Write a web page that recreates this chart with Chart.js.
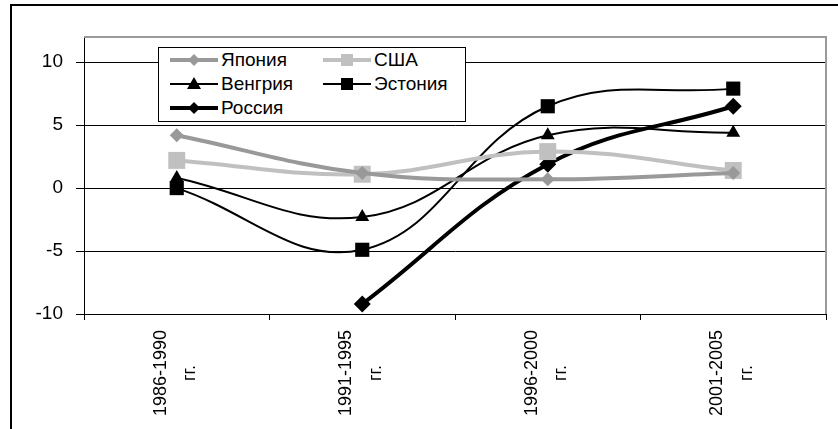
<!DOCTYPE html>
<html><head><meta charset="utf-8">
<script src="https://cdn.jsdelivr.net/npm/chart.js@4"></script>
<style>
html,body{margin:0;padding:0;background:#fff;}
#wrap{position:relative;width:838px;height:429px;overflow:hidden;}
#legend{position:absolute;left:158px;top:47px;width:306px;height:73px;border:1px solid #000;background:#fff;font-family:"Liberation Sans",Arial,sans-serif;font-size:19px;color:#000;}
.item{position:absolute;display:flex;align-items:center;height:24px;white-space:nowrap;}
.item svg{display:block;margin-right:3px;}
</style></head><body>
<div id="wrap"><canvas id="c" width="838" height="429"></canvas><div id="legend"></div></div>
<script>
const periods = ['1986-1990', '1991-1995', '1996-2000', '2001-2005'];
const periodSuffix = 'гг.';
const seriesNames = ['Япония', 'США', 'Венгрия', 'Эстония', 'Россия'];
const japan   = [4.2, 1.2, 0.7, 1.2];
const usa     = [2.2, 1.1, 2.9, 1.4];
const hungary = [0.8, -2.3, 4.2, 4.4];
const estonia = [0.0, -4.9, 6.5, 7.9];
const russia  = [null, -9.2, 1.9, 6.5];
const yTicks = [-10, -5, 0, 5, 10];
const yMin = -10, yMax = 12;

const FONT = '"Liberation Sans", Arial, sans-serif';
const pad = '\u00a0'.repeat(7);
const labels = periods.map(p => [p, periodSuffix + pad]);

const styles = [
  {color:'#999999', width:4, shape:'rectRot', r:7},
  {color:'#c0c0c0', width:4, shape:'rect', r:12},
  {color:'#000000', width:2, shape:'triangle', r:8},
  {color:'#000000', width:2, shape:'rect', r:10},
  {color:'#000000', width:4, shape:'rectRot', r:8.5}
];
const values = [japan, usa, hungary, estonia, russia];

const datasets = seriesNames.map((name, i) => ({
  label: name,
  data: values[i],
  borderColor: styles[i].color,
  backgroundColor: styles[i].color,
  borderWidth: styles[i].width,
  pointStyle: styles[i].shape,
  pointRadius: styles[i].r,
  pointBorderWidth: 0,
  pointBackgroundColor: styles[i].color,
  tension: 0.4,
  fill: false,
  spanGaps: false
})).reverse().map(d => d).reverse();

const framePlugin = {
  id: 'frame',
  beforeDraw(chart) {
    const ctx = chart.ctx;
    ctx.save();
    ctx.fillStyle = '#fff';
    ctx.fillRect(0, 0, chart.width, chart.height);
    ctx.strokeStyle = '#000';
    ctx.lineWidth = 2;
    ctx.beginPath();
    ctx.moveTo(11, chart.height + 2);
    ctx.lineTo(11, 5);
    ctx.lineTo(chart.width + 2, 5);
    ctx.stroke();
    ctx.restore();
  },
  beforeDatasetsDraw(chart) {
    const a = chart.chartArea, ctx = chart.ctx;
    ctx.save();
    ctx.strokeStyle = '#9a9a9a';
    ctx.lineWidth = 2;
    ctx.beginPath();
    ctx.moveTo(a.left, a.top);
    ctx.lineTo(a.right, a.top);
    ctx.lineTo(a.right, a.bottom);
    ctx.stroke();
    ctx.restore();
  }
};

const chart = new Chart(document.getElementById('c'), {
  type: 'line',
  data: { labels, datasets },
  options: {
    responsive: false,
    animation: false,
    layout: { padding: { left: 0, top: 37, right: 10, bottom: 0 } },
    plugins: { legend: { display: false }, tooltip: { enabled: false } },
    scales: {
      x: {
        offset: true,
        grid: { offset: true, drawOnChartArea: false, drawTicks: true, tickLength: 6, color: '#000', lineWidth: 1 },
        border: { color: '#000', width: 1 },
        ticks: { autoSkip: false, minRotation: 90, maxRotation: 90, padding: 10, labelOffset: -16, color: '#000',
                  font: { family: FONT, size: 18, lineHeight: 1.65 } },
        afterFit: s => { s.height = 115; }
      },
      y: {
        min: yMin, max: yMax,
        afterBuildTicks: s => { s.ticks = yTicks.map(v => ({ value: v })); },
        grid: { color: '#000', lineWidth: 1, tickLength: 8, drawTicks: true },
        border: { color: '#000', width: 1 },
        ticks: { padding: 13, color: '#000', font: { family: FONT, size: 19 } },
        afterFit: s => { s.width = 84; }
      }
    }
  },
  plugins: [framePlugin]
});

// HTML legend built from the datasets
const legend = document.getElementById('legend');
const rowTops = [0, 24, 48];
const colLefts = [11, 164];
function markerSvg(st) {
  const c = st.color, cx = 24, cy = 12;
  let m = '';
  if (st.shape === 'rectRot') m = `<polygon points="${cx-6},${cy} ${cx},${cy-6} ${cx+6},${cy} ${cx},${cy+6}" fill="${c}"/>`;
  else if (st.shape === 'rect') m = `<rect x="${cx-6}" y="${cy-6}" width="12" height="12" fill="${c}"/>`;
  else m = `<polygon points="${cx-7},${cy+5} ${cx},${cy-7} ${cx+7},${cy+5}" fill="${c}"/>`;
  return `<svg width="48" height="24"><line x1="0" y1="12" x2="48" y2="12" stroke="${c}" stroke-width="${st.width}"/>${m}</svg>`;
}
seriesNames.forEach((name, i) => {
  const d = document.createElement('div');
  d.className = 'item';
  d.style.left = colLefts[i % 2] + 'px';
  d.style.top = rowTops[Math.floor(i / 2)] + 'px';
  d.innerHTML = markerSvg(styles[i]) + '<span>' + name + '</span>';
  legend.appendChild(d);
});
</script>
</body></html>
